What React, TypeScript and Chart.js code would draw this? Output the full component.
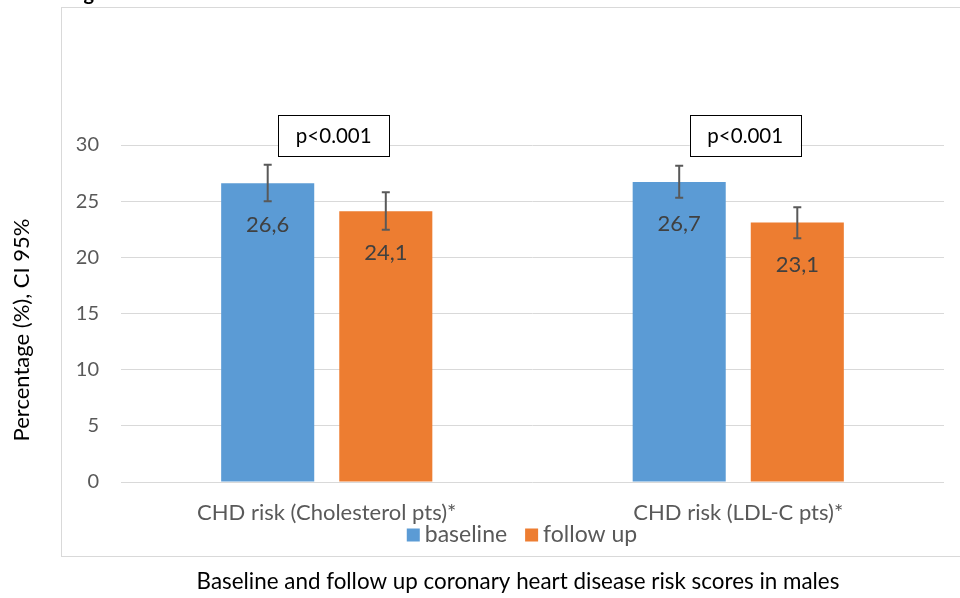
import React, { useEffect, useRef } from "react";
import { Chart, registerables } from "chart.js";

Chart.register(...registerables);

const categories = ["CHD risk (Cholesterol pts)*", "CHD risk (LDL-C pts)*"];
const seriesNames = ["baseline", "follow up"];
const baselineValues = [26.6, 26.7];
const followUpValues = [24.1, 23.1];
const baselineCiLow = [25.0, 25.3];
const baselineCiHigh = [28.25, 28.15];
const followUpCiLow = [22.45, 21.7];
const followUpCiHigh = [25.8, 24.45];
const pValueLabels = ["p<0.001", "p<0.001"];
const yTickValues = [0, 5, 10, 15, 20, 25, 30];
const yAxisTitle = "Percentage (%), CI 95%";
const xAxisTitle = "Baseline and follow up coronary heart disease risk scores in males";
const figureLabel = "Figure 1";

const BLUE = "#5b9bd5";
const ORANGE = "#ed7d31";
const FONT = "Lato, 'Open Sans', sans-serif";

const fmt = (v: number) => v.toFixed(1).replace(".", ",");

const overlayPlugin = {
  id: "overlay",
  afterDatasetsDraw(chart: any) {
    const ctx = chart.ctx;
    const y = chart.scales.y;
    const lows = [baselineCiLow, followUpCiLow];
    const highs = [baselineCiHigh, followUpCiHigh];
    const vals = [baselineValues, followUpValues];
    ctx.save();
    for (let d = 0; d < 2; d++) {
      const meta = chart.getDatasetMeta(d);
      meta.data.forEach((bar: any, i: number) => {
        ctx.fillStyle = "#404040";
        ctx.font = `22px ${FONT}`;
        ctx.textAlign = "center";
        ctx.textBaseline = "middle";
        ctx.fillText(fmt(vals[d][i]), bar.x, bar.y + 42);
        const yl = y.getPixelForValue(lows[d][i]);
        const yh = y.getPixelForValue(highs[d][i]);
        ctx.strokeStyle = "#595959";
        ctx.lineWidth = 2;
        ctx.beginPath();
        ctx.moveTo(bar.x, yl);
        ctx.lineTo(bar.x, yh);
        ctx.moveTo(bar.x - 4, yl);
        ctx.lineTo(bar.x + 4, yl);
        ctx.moveTo(bar.x - 4, yh);
        ctx.lineTo(bar.x + 4, yh);
        ctx.stroke();
      });
    }
    ctx.restore();
  },
  afterDraw(chart: any) {
    const ctx = chart.ctx;
    const x = chart.scales.x;
    const y = chart.scales.y;
    ctx.save();
    ctx.strokeStyle = "#d9d9d9";
    ctx.lineWidth = 1;
    ctx.strokeRect(61.5, 7.5, 920, 549);
    ctx.fillStyle = "#000";
    ctx.font = `bold 20px ${FONT}`;
    ctx.textAlign = "left";
    ctx.textBaseline = "alphabetic";
    ctx.fillText(figureLabel, 67, 0);
    pValueLabels.forEach((t, i) => {
      const cx = x.getPixelForValue(i) + 7;
      const cy = y.getPixelForValue(30.85);
      const w = 111;
      const h = 41;
      ctx.fillStyle = "#fff";
      ctx.fillRect(cx - w / 2, cy - h / 2, w, h);
      ctx.strokeStyle = "#000";
      ctx.lineWidth = 1;
      ctx.strokeRect(Math.round(cx - w / 2) + 0.5, Math.round(cy - h / 2) + 0.5, w, h);
      ctx.fillStyle = "#000";
      ctx.font = `20.5px ${FONT}`;
      ctx.textAlign = "center";
      ctx.textBaseline = "middle";
      ctx.fillText(t, cx, cy + 1);
    });
    ctx.font = `23px ${FONT}`;
    ctx.textBaseline = "middle";
    ctx.textAlign = "left";
    const colors = [BLUE, ORANGE];
    const box = 13;
    const gapBox = 5;
    const gapItem = 18;
    const widths = seriesNames.map((s) => ctx.measureText(s).width);
    const total = widths.reduce((a, b) => a + b, 0) + seriesNames.length * (box + gapBox) + gapItem;
    let lx = 522 - total / 2;
    const ly = 535;
    seriesNames.forEach((s, i) => {
      ctx.fillStyle = colors[i];
      ctx.fillRect(lx, ly - box / 2, box, box);
      ctx.fillStyle = "#595959";
      ctx.fillText(s, lx + box + gapBox, ly);
      lx += box + gapBox + widths[i] + gapItem;
    });
    ctx.fillStyle = "#000";
    ctx.font = `22.4px ${FONT}`;
    ctx.textAlign = "center";
    ctx.textBaseline = "middle";
    ctx.fillText(xAxisTitle, 518, 582);
    ctx.font = `22px ${FONT}`;
    ctx.translate(22, 330);
    ctx.rotate(-Math.PI / 2);
    ctx.fillText(yAxisTitle, 0, 0);
    ctx.restore();
  },
};

export default function App() {
  const ref = useRef<HTMLCanvasElement>(null);
  useEffect(() => {
    if (!ref.current) return;
    const chart = new Chart(ref.current, {
      type: "bar",
      data: {
        labels: categories,
        datasets: [
          {
            label: seriesNames[0],
            data: baselineValues,
            backgroundColor: BLUE,
            categoryPercentage: 0.574,
            barPercentage: 0.788,
          },
          {
            label: seriesNames[1],
            data: followUpValues,
            backgroundColor: ORANGE,
            categoryPercentage: 0.574,
            barPercentage: 0.788,
          },
        ],
      },
      options: {
        responsive: false,
        animation: false,
        devicePixelRatio: 1,
        layout: { padding: { left: 0, top: 145, right: 16, bottom: 0 } },
        plugins: { legend: { display: false }, tooltip: { enabled: false } },
        scales: {
          x: {
            grid: { display: false },
            border: { display: false },
            ticks: { color: "#595959", font: { family: FONT, size: 22 }, padding: 10, maxRotation: 0 },
            afterFit: (s: any) => {
              s.height = 116;
            },
          },
          y: {
            min: 0,
            max: 30,
            afterBuildTicks: (s: any) => {
              s.ticks = yTickValues.map((v) => ({ value: v }));
            },
            grid: { color: "#d9d9d9", drawTicks: false, lineWidth: 1 },
            border: { display: false },
            ticks: { color: "#595959", font: { family: FONT, size: 20 }, padding: 22 },
            afterFit: (s: any) => {
              s.width = 121;
            },
          },
        },
      },
      plugins: [overlayPlugin],
    });
    return () => chart.destroy();
  }, []);
  return (
    <canvas
      ref={ref}
      width={960}
      height={598}
      style={{ position: "absolute", left: 0, top: 0, width: 960, height: 598 }}
    />
  );
}
